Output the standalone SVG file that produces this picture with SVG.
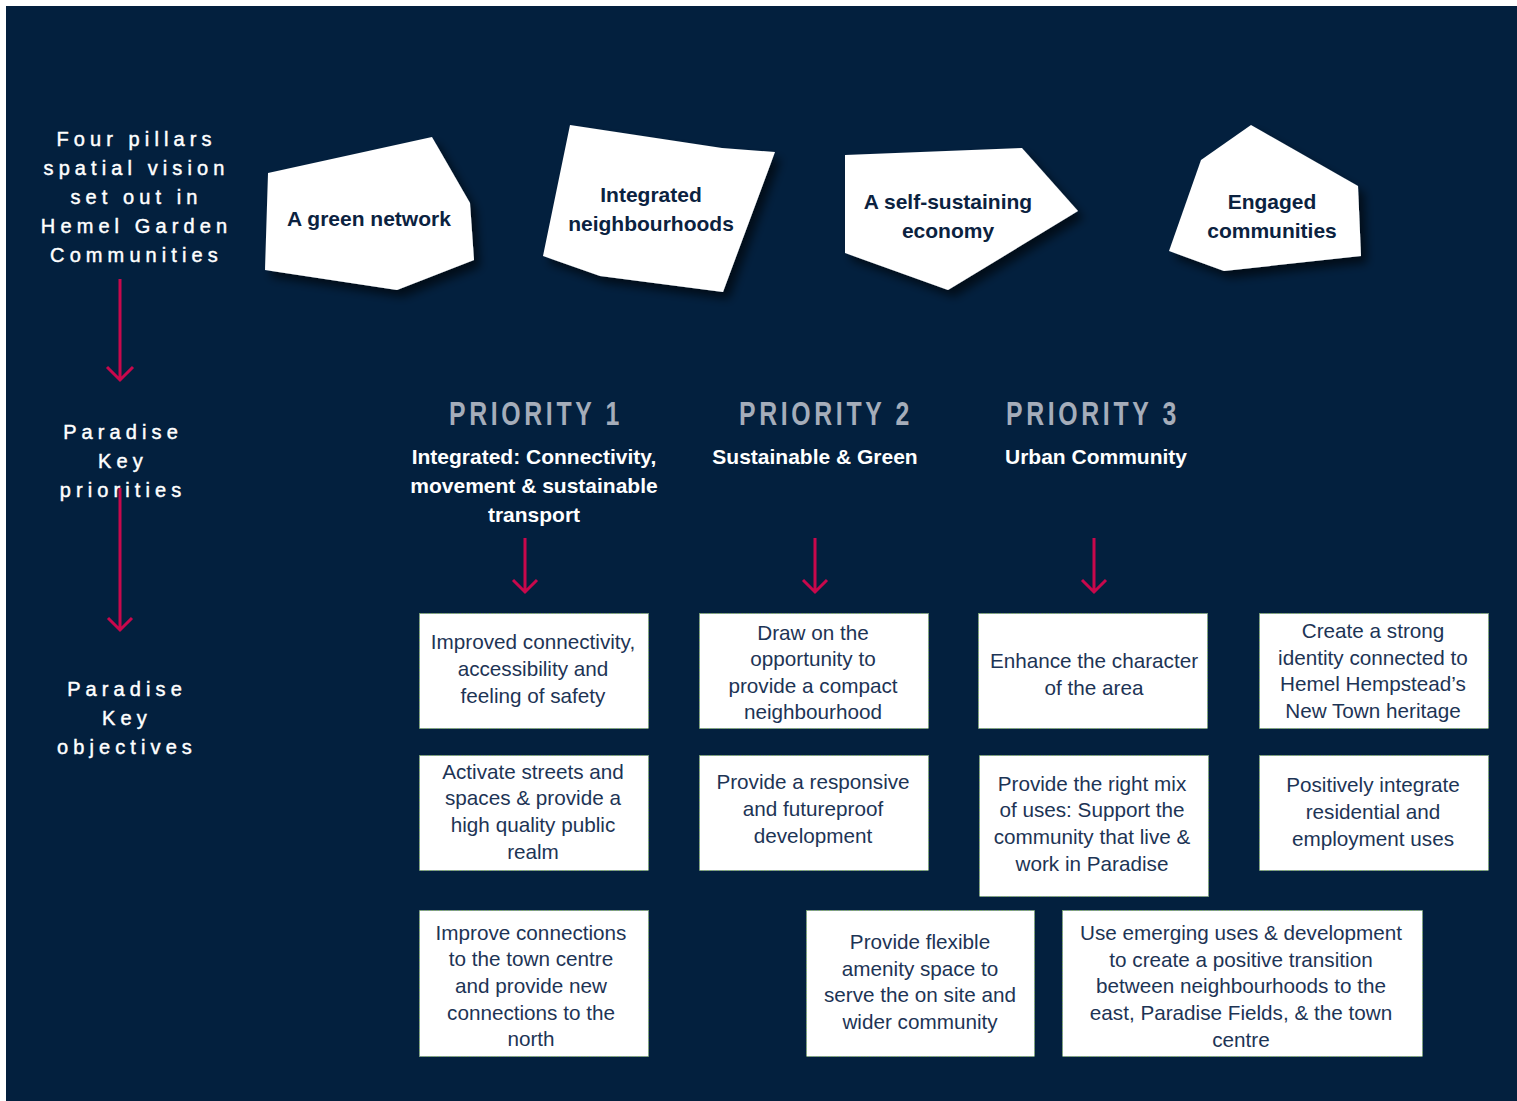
<svg xmlns="http://www.w3.org/2000/svg" width="1517" height="1101" viewBox="0 0 1517 1101">
<defs>
<filter id="sh" x="-20%" y="-20%" width="150%" height="150%">
<feDropShadow dx="6" dy="7" stdDeviation="5" flood-color="#000000" flood-opacity="0.6"/>
</filter>
</defs>
<style>
.side{font-family:"Liberation Sans",Arial,sans-serif;font-size:20px;fill:#ffffff;stroke:#ffffff;stroke-width:0.45;letter-spacing:5.1px;text-anchor:middle}
.pill{fill:#ffffff;filter:url(#sh)}
.pt{font-family:"Liberation Sans",Arial,sans-serif;font-size:21px;font-weight:bold;fill:#0b2240;text-anchor:middle}
.ph{font-family:"Liberation Sans",Arial,sans-serif;font-size:34px;font-weight:bold;fill:#a5adba;letter-spacing:5px;text-anchor:middle}
.ps{font-family:"Liberation Sans",Arial,sans-serif;font-size:21px;font-weight:bold;fill:#ffffff;text-anchor:middle}
.box{fill:#ffffff;stroke:#7fae6c;stroke-width:1;stroke-dasharray:1.5 1.5}
.bt{font-family:"Liberation Sans",Arial,sans-serif;font-size:20.7px;fill:#1d3455;text-anchor:middle}
.arr{fill:none;stroke:#c8084c;stroke-width:3}
</style>
<rect x="6" y="6" width="1511" height="1095" fill="#03203e"/>

<g id="label-pillars">
<text class="side" x="136.5" y="146">Four pillars</text>
<text class="side" x="136.5" y="175">spatial vision</text>
<text class="side" x="136.5" y="204">set out in</text>
<text class="side" x="136.5" y="233">Hemel Garden</text>
<text class="side" x="136.5" y="262">Communities</text>
</g>
<g id="label-priorities">
<text class="side" x="123" y="439">Paradise</text>
<text class="side" x="123" y="468">Key</text>
<text class="side" x="123" y="497">priorities</text>
</g>
<g id="label-objectives">
<text class="side" x="127" y="696">Paradise</text>
<text class="side" x="127" y="725">Key</text>
<text class="side" x="127" y="754">objectives</text>
</g>

<g id="pillar-green-network">
<polygon class="pill" points="268,173 432,137 470,203 474,260 397,290 265,270"/>
<text class="pt" x="369" y="226">A green network</text>
</g>
<g id="pillar-integrated-neighbourhoods">
<polygon class="pill" points="570,125 722,148 775,152 723,292 600,276 543,256"/>
<text class="pt" x="651" y="202">Integrated</text>
<text class="pt" x="651" y="231">neighbourhoods</text>
</g>
<g id="pillar-self-sustaining-economy">
<polygon class="pill" points="845,155 1022,148 1078,211 948,290 845,253"/>
<text class="pt" x="948" y="209">A self-sustaining</text>
<text class="pt" x="948" y="238">economy</text>
</g>
<g id="pillar-engaged-communities">
<polygon class="pill" points="1251,125 1358,186 1361,256 1224,271 1169,251 1201,160"/>
<text class="pt" x="1272" y="209">Engaged</text>
<text class="pt" x="1272" y="238">communities</text>
</g>

<g id="priority-1">
<text class="ph" transform="translate(536,425) scale(0.73,1)" x="0" y="0">PRIORITY 1</text>
<text class="ps" x="534" y="464">Integrated: Connectivity,</text>
<text class="ps" x="534" y="493">movement &amp; sustainable</text>
<text class="ps" x="534" y="522">transport</text>
</g>
<g id="priority-2">
<text class="ph" transform="translate(826,425) scale(0.73,1)" x="0" y="0">PRIORITY 2</text>
<text class="ps" x="815" y="464">Sustainable &amp; Green</text>
</g>
<g id="priority-3">
<text class="ph" transform="translate(1093,425) scale(0.73,1)" x="0" y="0">PRIORITY 3</text>
<text class="ps" x="1096" y="464">Urban Community</text>
</g>

<g id="connectors">
<path class="arr" d="M120,279 V380 M107,367 L120,380 L133,367"/>
<path class="arr" d="M120,488 V630 M108,618 L120,630 L132,618"/>
<path class="arr" d="M525,538 V592 M513,580 L525,592 L537,580"/>
<path class="arr" d="M815,538 V592 M803,580 L815,592 L827,580"/>
<path class="arr" d="M1094,538 V592 M1082,580 L1094,592 L1106,580"/>
</g>

<g id="obj-1">
<rect class="box" x="419.5" y="613.5" width="229" height="115"/>
<text class="bt" x="533" y="649">Improved connectivity,</text>
<text class="bt" x="533" y="676">accessibility and</text>
<text class="bt" x="533" y="703">feeling of safety</text>
</g>
<g id="obj-2">
<rect class="box" x="699.5" y="613.5" width="229" height="115"/>
<text class="bt" x="813" y="640">Draw on the</text>
<text class="bt" x="813" y="666">opportunity to</text>
<text class="bt" x="813" y="693">provide a compact</text>
<text class="bt" x="813" y="719">neighbourhood</text>
</g>
<g id="obj-3">
<rect class="box" x="978.5" y="613.5" width="229" height="115"/>
<text class="bt" x="1094" y="668">Enhance the character</text>
<text class="bt" x="1094" y="695">of the area</text>
</g>
<g id="obj-4">
<rect class="box" x="1259.5" y="613.5" width="229" height="115"/>
<text class="bt" x="1373" y="638">Create a strong</text>
<text class="bt" x="1373" y="665">identity connected to</text>
<text class="bt" x="1373" y="691">Hemel Hempstead’s</text>
<text class="bt" x="1373" y="718">New Town heritage</text>
</g>
<g id="obj-5">
<rect class="box" x="419.5" y="755.5" width="229" height="115"/>
<text class="bt" x="533" y="779">Activate streets and</text>
<text class="bt" x="533" y="805">spaces &amp; provide a</text>
<text class="bt" x="533" y="832">high quality public</text>
<text class="bt" x="533" y="859">realm</text>
</g>
<g id="obj-6">
<rect class="box" x="699.5" y="755.5" width="229" height="115"/>
<text class="bt" x="813" y="789">Provide a responsive</text>
<text class="bt" x="813" y="816">and futureproof</text>
<text class="bt" x="813" y="843">development</text>
</g>
<g id="obj-7">
<rect class="box" x="979.5" y="755.5" width="229" height="141"/>
<text class="bt" x="1092" y="791">Provide the right mix</text>
<text class="bt" x="1092" y="817">of uses: Support the</text>
<text class="bt" x="1092" y="844">community that live &amp;</text>
<text class="bt" x="1092" y="871">work in Paradise</text>
</g>
<g id="obj-8">
<rect class="box" x="1259.5" y="755.5" width="229" height="115"/>
<text class="bt" x="1373" y="792">Positively integrate</text>
<text class="bt" x="1373" y="819">residential and</text>
<text class="bt" x="1373" y="846">employment uses</text>
</g>
<g id="obj-9">
<rect class="box" x="419.5" y="910.5" width="229" height="146"/>
<text class="bt" x="531" y="940">Improve connections</text>
<text class="bt" x="531" y="966">to the town centre</text>
<text class="bt" x="531" y="993">and provide new</text>
<text class="bt" x="531" y="1020">connections to the</text>
<text class="bt" x="531" y="1046">north</text>
</g>
<g id="obj-10">
<rect class="box" x="806.5" y="910.5" width="228" height="146"/>
<text class="bt" x="920" y="949">Provide flexible</text>
<text class="bt" x="920" y="976">amenity space to</text>
<text class="bt" x="920" y="1002">serve the on site and</text>
<text class="bt" x="920" y="1029">wider community</text>
</g>
<g id="obj-11">
<rect class="box" x="1062.5" y="910.5" width="360" height="146"/>
<text class="bt" x="1241" y="940">Use emerging uses &amp; development</text>
<text class="bt" x="1241" y="967">to create a positive transition</text>
<text class="bt" x="1241" y="993">between neighbourhoods to the</text>
<text class="bt" x="1241" y="1020">east, Paradise Fields, &amp; the town</text>
<text class="bt" x="1241" y="1047">centre</text>
</g>
</svg>
